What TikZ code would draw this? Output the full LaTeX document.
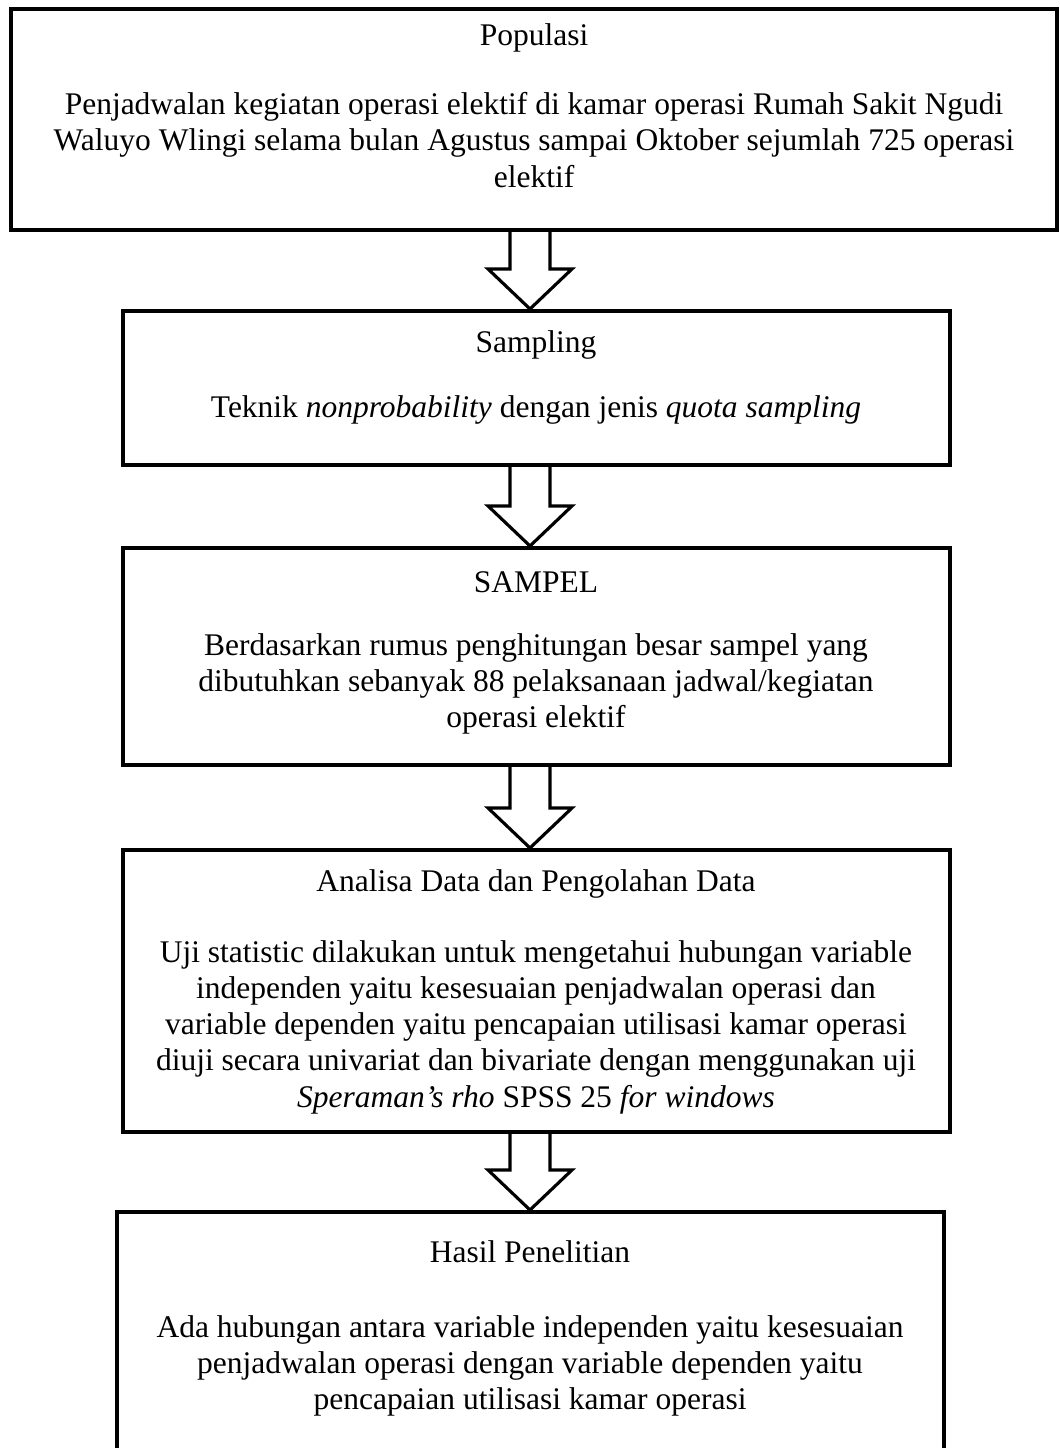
\documentclass[tikz,border=0pt]{standalone}
\usepackage{fontspec}
\setmainfont{Liberation Serif}
\usetikzlibrary{calc}
\usetikzlibrary{fit}

\begin{document}
\begin{tikzpicture}
  [x=0.381pt,y=-0.381pt,
  box/.style={draw=black,line width=1.55pt,inner sep=0pt},
  title/.style={inner sep=0pt,font=\fontsize{12}{13.8}\selectfont},
  body/.style={inner sep=0pt,align=center,font=\fontsize{12}{13.8}\selectfont},
  hollow/.style={draw=black,line width=1.2pt,fill=white,line join=miter}]
  \useasboundingbox (0,0) rectangle (1059,1448);
  \coordinate (axis) at (530,0);

  \node[box,fit={(11,9) (1057,230)}] (populasi) {};
  \node[box,fit={(123,311) (950,465)}] (sampling) {};
  \node[box,fit={(123,548) (950,765)}] (sampel) {};
  \node[box,fit={(123,850) (950,1132)}] (analisa) {};
  \node[box,fit={(117,1212) (944,1480)}] (hasil) {};

  \node[title] (populasi-title) at (534,38) {Populasi};
  \node[body] (populasi-text) at (534,140) {Penjadwalan kegiatan operasi elektif di kamar operasi Rumah Sakit Ngudi\\Waluyo Wlingi selama bulan Agustus sampai Oktober sejumlah 725 operasi\\elektif};

  \node[title] (sampling-title) at (536,345) {Sampling};
  \node[body] (sampling-text) at (536,410) {Teknik \textit{nonprobability} dengan jenis \textit{quota sampling}};

  \node[title] (sampel-title) at (536,582) {SAMPEL};
  \node[body] (sampel-text) at (536,684) {Berdasarkan rumus penghitungan besar sampel yang\\dibutuhkan sebanyak 88 pelaksanaan jadwal/kegiatan\\operasi elektif};

  \node[title] (analisa-title) at (536,884) {Analisa Data dan Pengolahan Data};
  \node[body] (analisa-text) at (536,1027) {Uji statistic dilakukan untuk mengetahui hubungan variable\\independen yaitu kesesuaian penjadwalan operasi dan\\variable dependen yaitu pencapaian utilisasi kamar operasi\\diuji secara univariat dan bivariate dengan menggunakan uji\\\textit{Speraman’s rho} SPSS 25 \textit{for windows}};

  \node[title] (hasil-title) at (530,1252) {Hasil Penelitian};
  \node[body] (hasil-text) at (530,1366) {Ada hubungan antara variable independen yaitu kesesuaian\\penjadwalan operasi dengan variable dependen yaitu\\pencapaian utilisasi kamar operasi};

  % block arrows between the boxes
  \draw[hollow] ($(populasi.south -| axis)+(-20,0)$) -- ($(sampling.north -| axis)+(-20,-40)$) -- ($(sampling.north -| axis)+(-42,-40)$) -- (sampling.north -| axis) -- ($(sampling.north -| axis)+(42,-40)$) -- ($(sampling.north -| axis)+(20,-40)$) -- ($(populasi.south -| axis)+(20,0)$);
  \draw[hollow] ($(sampling.south -| axis)+(-20,0)$) -- ($(sampel.north -| axis)+(-20,-40)$) -- ($(sampel.north -| axis)+(-42,-40)$) -- (sampel.north -| axis) -- ($(sampel.north -| axis)+(42,-40)$) -- ($(sampel.north -| axis)+(20,-40)$) -- ($(sampling.south -| axis)+(20,0)$);
  \draw[hollow] ($(sampel.south -| axis)+(-20,0)$) -- ($(analisa.north -| axis)+(-20,-40)$) -- ($(analisa.north -| axis)+(-42,-40)$) -- (analisa.north -| axis) -- ($(analisa.north -| axis)+(42,-40)$) -- ($(analisa.north -| axis)+(20,-40)$) -- ($(sampel.south -| axis)+(20,0)$);
  \draw[hollow] ($(analisa.south -| axis)+(-20,0)$) -- ($(hasil.north -| axis)+(-20,-40)$) -- ($(hasil.north -| axis)+(-42,-40)$) -- (hasil.north -| axis) -- ($(hasil.north -| axis)+(42,-40)$) -- ($(hasil.north -| axis)+(20,-40)$) -- ($(analisa.south -| axis)+(20,0)$);
\end{tikzpicture}
\end{document}
